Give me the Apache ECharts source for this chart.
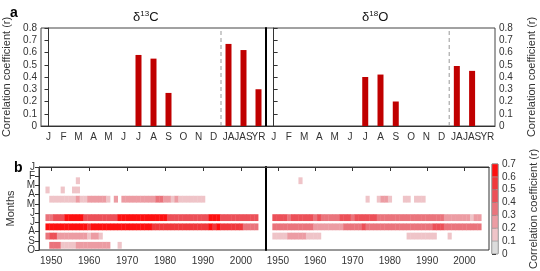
<!DOCTYPE html>
<html>
<head>
<meta charset="utf-8">
<script src="https://cdn.jsdelivr.net/npm/echarts@6/dist/echarts.min.js"></script>
<style>
  html, body { margin: 0; padding: 0; background: #fff; }
  #chart { width: 540px; height: 271px; }
</style>
</head>
<body>
<div id="chart"></div>
<script>
// panel a: correlation per month / season
const barCats = ['J', 'F', 'M', 'A', 'M', 'J', 'J', 'A', 'S', 'O', 'N', 'D', 'JA', 'JAS', 'YR'];
const c13Bars = [null, null, null, null, null, null, 0.58, 0.55, 0.27, null, null, null, 0.67, 0.62, 0.30];
const o18Bars = [null, null, null, null, null, null, 0.40, 0.42, 0.20, null, null, null, 0.49, 0.45, null];
const seasonSplit = [11.5]; // dashed line between D and JA

// panel b: moving correlations, runs of [fromYear, toYear, r]
const monthLabels = ['J', 'F', 'M', 'A', 'M', 'J', 'J', 'A', 'S', 'O'];
const monthTicksEven = [0, 2, 4, 6, 8];
const monthTicksOdd = [1, 3, 5, 7, 9];
const yearTicks = [1950, 1960, 1970, 1980, 1990, 2000];

const c13Feb = [[1957, 1957, 0.12]];
const c13Mar = [[1949, 1949, 0.15], [1953, 1953, 0.15], [1956, 1957, 0.18]];
const c13Apr = [[1950, 1956, 0.15], [1957, 1957, 0.25], [1958, 1959, 0.15], [1960, 1964, 0.25], [1965, 1965, 0.15],
  [1967, 1967, 0.25], [1969, 1977, 0.25], [1978, 1979, 0.3], [1980, 1981, 0.25], [1982, 1982, 0.15],
  [1983, 1983, 0.25], [1984, 1990, 0.15]];
const c13Jun = [[1949, 1950, 0.38], [1951, 1953, 0.45], [1954, 1958, 0.62], [1959, 1967, 0.45], [1968, 1980, 0.62],
  [1981, 1991, 0.45], [1992, 1994, 0.62], [1995, 2004, 0.45]];
const c13Jul = [[1949, 1959, 0.62], [1960, 1960, 0.5], [1961, 1976, 0.62], [1977, 1991, 0.5], [1992, 1992, 0.62],
  [1993, 1993, 0.5], [1994, 1994, 0.62], [1995, 2000, 0.5], [2001, 2004, 0.35]];
const c13Aug = [[1949, 1949, 0.3], [1950, 1951, 0.45], [1952, 1959, 0.25], [1960, 1960, 0.18], [1961, 1962, 0.25],
  [1963, 1963, 0.15]];
const c13Sep = [[1950, 1952, 0.3], [1953, 1956, 0.15], [1957, 1965, 0.25], [1968, 1968, 0.15]];

const o18Feb = [[1956, 1956, 0.15]];
const o18Apr = [[1974, 1974, 0.15], [1977, 1977, 0.18], [1978, 1979, 0.25], [1980, 1980, 0.15], [1984, 1985, 0.15],
  [1987, 1989, 0.15]];
const o18Jun = [[1949, 1952, 0.45], [1953, 1953, 0.35], [1954, 1959, 0.45], [1960, 1960, 0.35], [1961, 1961, 0.42],
  [1962, 1966, 0.35], [1967, 1969, 0.45], [1970, 1970, 0.35], [1971, 1976, 0.45], [1977, 1994, 0.35],
  [1995, 2001, 0.25], [2002, 2002, 0.15], [2003, 2004, 0.25]];
const o18Jul = [[1949, 1949, 0.3], [1950, 1959, 0.35], [1960, 1967, 0.25], [1968, 1972, 0.35], [1973, 1973, 0.45],
  [1974, 1991, 0.35], [1992, 1994, 0.45], [1995, 2004, 0.35]];
const o18Aug = [[1949, 1952, 0.15], [1953, 1957, 0.25], [1958, 1961, 0.15], [1985, 1992, 0.15], [1996, 1996, 0.15]];

// colour scale
const binEdges = [0, 0.1, 0.2, 0.3, 0.4, 0.5, 0.6, 0.7];
const binColors = ['#dcdcdc', '#efc4c8', '#ec9ca3', '#ea747c', '#ec5058', '#f0383c', '#fd1010'];

function binColor(v) {
  for (let i = binColors.length - 1; i >= 0; i--) {
    if (v >= binEdges[i]) return binColors[i];
  }
  return binColors[0];
}

function cells(rows) {
  const out = [];
  rows.forEach(([month, runs]) => {
    runs.forEach(([y0, y1, r]) => {
      for (let y = y0; y <= y1; y++) out.push([y, month, r]);
    });
  });
  return out;
}

const c13Cells = cells([[1, c13Feb], [2, c13Mar], [3, c13Apr], [5, c13Jun], [6, c13Jul], [7, c13Aug], [8, c13Sep]]);
const o18Cells = cells([[1, o18Feb], [3, o18Apr], [5, o18Jun], [6, o18Jul], [7, o18Aug]]);
const binData = binColors.map((c, i) => [binEdges[i], binEdges[i + 1]]);

const font = 'Liberation Sans, Arial, sans-serif';
const txt = '#333';
const axisName = 'Correlation coefficient (r)';

function heatRender(params, api) {
  const y = api.value(0), m = api.value(1), r = api.value(2);
  const p0 = api.coord([y - 0.5, m + 0.12]);
  const p1 = api.coord([y + 0.5, m + 0.86]);
  return {
    type: 'rect',
    shape: { x: p0[0], y: p0[1], width: p1[0] - p0[0] + 0.4, height: p1[1] - p0[1] },
    style: { fill: binColor(r) }
  };
}

function splitRender(params, api) {
  const p0 = api.coord([api.value(0), 0]);
  const p1 = api.coord([api.value(0), 0.8]);
  return {
    type: 'line',
    shape: { x1: p0[0], y1: p0[1], x2: p1[0], y2: p1[1] },
    style: { stroke: '#999', lineWidth: 1, lineDash: [4, 3] }
  };
}

function barXAxis(idx) {
  return {
    type: 'category', gridIndex: idx, data: barCats,
    axisLine: { lineStyle: { color: '#333' } },
    axisTick: { interval: 0, length: 4, lineStyle: { color: '#333' } },
    axisLabel: { interval: 0, fontSize: 10, color: txt, fontFamily: font, margin: 6 },
    splitLine: { show: false }
  };
}

function heatXAxis(idx) {
  return {
    type: 'value', gridIndex: idx, min: 1946.8, max: 2006.6,
    axisLine: { lineStyle: { color: '#333' } },
    axisTick: { customValues: yearTicks, length: 4, lineStyle: { color: '#333' } },
    axisLabel: { customValues: yearTicks, fontSize: 10, color: txt, fontFamily: font, margin: 6, formatter: (v) => String(v) },
    splitLine: { show: false }
  };
}

// month axis is split in two overlapping axes so every letter keeps its label
function monthAxis(ticks, withLine) {
  return {
    type: 'value', gridIndex: 2, min: 0, max: 9, inverse: true, position: 'left', offset: 0,
    name: withLine ? 'Months' : '', nameLocation: 'middle', nameRotate: 90, nameGap: 23,
    nameTextStyle: { fontSize: 11, color: txt },
    axisLine: { show: withLine, lineStyle: { color: '#333' } },
    axisTick: { show: true, customValues: ticks, length: 4, lineStyle: { color: '#333' } },
    axisLabel: {
      customValues: ticks, fontSize: 10, color: txt, margin: 4,
      showMinLabel: true, showMaxLabel: true, formatter: (v) => monthLabels[v]
    },
    splitLine: { show: false }
  };
}

const titleRich = { d: { fontSize: 13, color: '#111', fontWeight: 'normal' }, s: { fontSize: 8, color: '#111', fontWeight: 'normal', padding: [0, 0, 6, 0] } };

const chart = echarts.init(document.getElementById('chart'), null, { renderer: 'canvas' });
chart.setOption({
  animation: false,
  textStyle: { fontFamily: font },
  title: [
    { text: 'a', left: 5, top: 1, textStyle: { fontSize: 14, fontWeight: 'bold', color: '#000' } },
    { text: 'b', left: 9, top: 156, textStyle: { fontSize: 14, fontWeight: 'bold', color: '#000' } },
    { text: '{d|δ}{s|13}{d|C}', left: 128, top: 5, textStyle: { fontWeight: 'normal', rich: titleRich } },
    { text: '{d|δ}{s|18}{d|O}', left: 357, top: 5, textStyle: { fontWeight: 'normal', rich: titleRich } }
  ],
  grid: [
    { left: 40, top: 28, width: 226, height: 98, show: true, borderColor: '#444', borderWidth: 1 },
    { left: 266, top: 28, width: 229, height: 98, show: true, borderColor: '#444', borderWidth: 1 },
    { left: 39, top: 167, width: 227, height: 83, show: true, borderColor: '#333', borderWidth: 1 },
    { left: 266, top: 167, width: 223, height: 83, show: true, borderColor: '#333', borderWidth: 1 },
    { left: 492, top: 164, width: 10, height: 99, show: true, borderColor: '#666', borderWidth: 1 }
  ],
  xAxis: [
    barXAxis(0),
    barXAxis(1),
    heatXAxis(2),
    heatXAxis(3),
    { type: 'value', gridIndex: 4, min: 0, max: 1, show: false },
    { type: 'value', gridIndex: 0, min: -0.5, max: 14.5, show: false },
    { type: 'value', gridIndex: 1, min: -0.5, max: 14.5, show: false }
  ],
  yAxis: [
    {
      type: 'value', gridIndex: 0, min: 0, max: 0.8, interval: 0.1,
      name: axisName, nameLocation: 'middle', nameRotate: 90, nameGap: 29,
      nameTextStyle: { fontSize: 11, color: txt },
      axisLine: { show: true, lineStyle: { color: '#333' } },
      axisTick: { show: true, length: 4, lineStyle: { color: '#333' } },
      axisLabel: { fontSize: 10, color: txt, margin: 4, showMinLabel: true, showMaxLabel: true },
      splitLine: { show: false }
    },
    {
      type: 'value', gridIndex: 1, min: 0, max: 0.8, interval: 0.1, position: 'right',
      name: axisName, nameLocation: 'middle', nameRotate: 90, nameGap: 31,
      nameTextStyle: { fontSize: 11, color: txt },
      axisLine: { show: true, lineStyle: { color: '#333' } },
      axisTick: { show: true, length: 4, lineStyle: { color: '#333' } },
      axisLabel: { fontSize: 10, color: txt, margin: 4, showMinLabel: true, showMaxLabel: true },
      splitLine: { show: false }
    },
    {
      type: 'value', gridIndex: 1, min: 0, max: 0.8, position: 'left',
      axisLine: { show: true, lineStyle: { color: '#000', width: 2 } },
      axisTick: { show: false }, axisLabel: { show: false }, splitLine: { show: false }
    },
    monthAxis(monthTicksEven, true),
    {
      type: 'value', gridIndex: 3, min: 0, max: 9, inverse: true,
      axisLine: { show: true, lineStyle: { color: '#000', width: 2 } },
      axisTick: { show: false }, axisLabel: { show: false }, splitLine: { show: false }
    },
    {
      type: 'value', gridIndex: 4, min: 0, max: 0.7, interval: 0.1, position: 'right',
      name: axisName, nameLocation: 'middle', nameRotate: 90, nameGap: 30,
      nameTextStyle: { fontSize: 11, color: txt },
      axisLine: { show: false },
      axisTick: { show: true, length: 4, lineStyle: { color: '#333' } },
      axisLabel: { fontSize: 10, color: txt, margin: 4, showMinLabel: true, showMaxLabel: true },
      splitLine: { show: false }
    },
    monthAxis(monthTicksOdd, false)
  ],
  series: [
    {
      type: 'bar', xAxisIndex: 0, yAxisIndex: 0, data: c13Bars, barWidth: 6,
      itemStyle: { color: '#c00000' }
    },
    {
      type: 'bar', xAxisIndex: 1, yAxisIndex: 1, data: o18Bars, barWidth: 6,
      itemStyle: { color: '#c00000' }
    },
    { type: 'custom', xAxisIndex: 5, yAxisIndex: 0, data: seasonSplit, renderItem: splitRender, z: 1 },
    { type: 'custom', xAxisIndex: 6, yAxisIndex: 1, data: seasonSplit, renderItem: splitRender, z: 1 },
    {
      type: 'custom', xAxisIndex: 2, yAxisIndex: 3, data: c13Cells, renderItem: heatRender, z: 1
    },
    {
      type: 'custom', xAxisIndex: 3, yAxisIndex: 4, data: o18Cells, renderItem: heatRender, z: 1
    },
    {
      type: 'custom', xAxisIndex: 4, yAxisIndex: 5, data: binData,
      renderItem: (params, api) => {
        const p0 = api.coord([0, api.value(1)]);
        const p1 = api.coord([1, api.value(0)]);
        return {
          type: 'rect',
          shape: { x: p0[0], y: p0[1], width: p1[0] - p0[0], height: p1[1] - p0[1] },
          style: { fill: binColors[params.dataIndex], stroke: '#999', lineWidth: 0.5 }
        };
      }
    }
  ]
});
</script>
</body>
</html>
